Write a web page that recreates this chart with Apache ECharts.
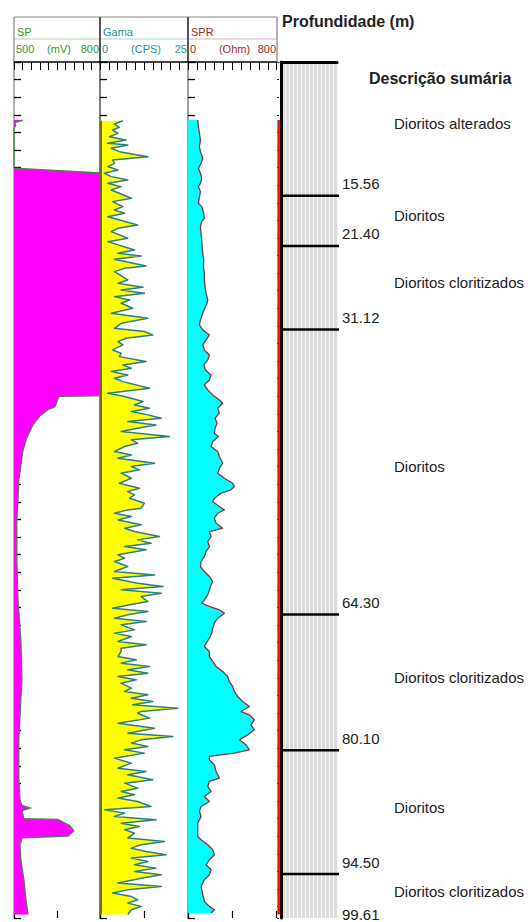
<!DOCTYPE html>
<html>
<head>
<meta charset="utf-8">
<script src="https://cdn.jsdelivr.net/npm/echarts/dist/echarts.min.js"></script>
<style>html,body{margin:0;padding:0;background:#fff}#c{width:528px;height:922px}</style>
</head>
<body>
<div id="c"></div>
<script>
// ---------------- DATA ----------------
const trackNames = ['SP', 'Gama', 'SPR'];
const trackUnits = ['(mV)', '(CPS)', '(Ohm)'];
const trackMin = [500, 0, 0];
const trackMax = [800, 25, 800];

// SP (mV) vs depth (m)
const spDepth = [6.6, 6.9, 7.2, 7.6, 12.05, 12.6, 37.95, 38.0, 39.2, 39.5, 40.2, 41.25, 42.7, 44.2, 45.9, 47.5, 49.8, 52.0, 56.6, 61.1, 65.7, 70.2, 72.5, 77.0, 81.6, 83.9, 84.5, 84.8, 85.1, 86.0, 86.1, 86.8, 87.4, 88.0, 88.2, 89.0, 90.7, 93.0, 95.2, 96.9];
const spValue = [531, 503, 506, 500, 500, 800, 800, 657, 643, 619, 591, 566, 545, 531, 524, 517, 514, 510, 510, 514, 524, 528, 524, 517, 517, 521, 528, 559, 528, 535, 654, 695, 709, 688, 528, 521, 524, 535, 542, 549];

// Gama (CPS) vs depth (m)
const gamaDepth = [6.67,7.05,7.42,7.73,8.11,8.49,8.86,9.24,9.43,9.81,10.19,10.76,11.14,11.52,11.89,12.27,12.65,13.03,13.41,13.79,14.17,14.55,15.49,15.87,16.44,16.82,17.2,17.58,18.52,18.9,19.28,20.04,20.42,21.36,21.74,22.05,22.42,23.18,23.45,23.83,24.77,25.15,25.61,25.91,26.29,26.67,27.05,27.42,
27.99,28.56,29.13,29.7,30.27,30.64,31.02,31.4,31.78,32.16,32.73,33.11,33.49,34.05,34.43,34.81,35.19,35.57,35.95,36.33,37.08,37.65,38.03,38.6,38.98,39.36,39.73,40.11,40.49,40.87,41.25,41.63,42.01,42.58,42.95,43.33,43.71,44.28,44.66,45.04,45.61,45.98,46.36,46.74,47.31,47.88,48.45,48.83,49.2,49.58,50.15,50.72,
50.91,51.29,51.67,52.05,52.61,52.99,53.37,53.94,54.32,54.7,55.08,55.45,56.02,56.4,56.78,57.35,57.92,58.3,58.67,59.24,59.62,60.0,60.38,60.76,61.33,61.7,62.08,62.46,62.84,63.22,63.6,63.98,64.55,64.92,65.3,65.87,66.25,66.63,67.01,67.58,67.95,68.33,68.71,69.09,69.47,69.85,70.23,70.61,71.17,71.55,71.93,72.31,72.69,73.07,73.45,73.83,
74.02,74.58,75.15,75.72,76.29,76.67,77.05,77.42,77.8,78.18,78.56,79.13,79.7,80.27,80.64,81.02,81.59,81.97,82.54,82.92,83.3,83.67,84.05,84.62,85.0,85.38,85.76,86.14,86.52,86.89,87.27,87.65,88.22,88.6,88.98,89.36,89.73,90.11,90.49,90.87,91.25,91.63,92.01,92.39,92.77,93.33,93.71,94.09,94.47,94.85,95.23,95.61,95.98,96.36,96.9];
const gamaValue = [6.5,4.1,5.5,3.6,5.1,2.7,7.4,2.2,7.9,3.2,5.5,13.6,3.6,4.1,2.2,5.1,1.3,3.2,7.9,2.2,6.0,3.2,8.9,3.6,6.5,4.1,7.0,2.2,10.7,5.1,3.2,7.9,2.2,9.8,5.1,11.7,4.1,13.1,7.0,4.1,7.9,5.1,12.2,6.0,12.6,4.1,8.4,6.0,
9.3,3.2,13.6,6.0,4.1,12.6,15.0,7.4,5.1,6.5,3.6,6.0,5.5,13.1,6.5,8.9,3.2,7.9,4.1,6.5,14.1,2.2,7.0,12.2,9.8,14.1,8.9,13.6,17.4,7.9,15.9,10.7,6.0,19.7,8.9,10.7,7.0,4.1,8.9,5.1,15.5,8.9,11.2,6.0,8.9,5.5,11.2,7.9,9.8,8.4,12.6,11.7,
7.9,4.1,8.9,5.1,11.7,7.0,9.8,16.9,10.7,14.5,7.0,13.1,5.1,7.0,4.1,7.9,4.1,15.5,3.6,10.7,17.9,6.0,17.4,11.7,13.6,8.4,3.6,13.6,7.9,4.1,13.1,6.0,9.8,4.1,8.9,5.1,13.1,6.0,6.0,5.1,10.3,6.0,14.1,7.9,13.6,5.1,10.3,6.0,8.9,7.0,13.6,8.9,15.0,9.3,22.1,11.7,
10.7,14.1,5.1,15.5,7.9,20.7,11.7,8.9,13.6,7.0,12.6,4.1,8.9,5.1,13.1,7.9,15.0,7.0,10.7,6.0,9.8,5.1,10.7,14.5,1.3,7.0,4.1,15.9,6.0,11.2,7.0,9.8,7.9,18.3,11.7,8.9,13.1,18.8,8.9,13.6,9.8,15.9,9.8,17.4,11.7,5.1,17.4,7.9,3.6,8.9,10.7,7.9,11.7,8.9,7.9];

// SPR (Ohm) vs depth (m)
const sprDepth = [6.59,7.35,8.11,8.86,9.62,10.19,10.95,11.52,12.08,12.65,13.22,13.79,14.17,14.73,15.3,16.06,16.44,17.2,17.77,18.14,18.71,19.47,20.23,20.98,21.74,22.5,23.26,24.02,24.77,25.53,26.29,27.05,27.42,
27.8,28.56,29.32,29.89,30.45,31.02,31.59,32.16,32.73,33.3,33.86,34.43,35.0,35.57,36.14,36.7,37.27,37.84,38.41,38.79,39.36,39.92,40.49,41.06,41.63,42.2,42.58,43.14,43.71,44.28,44.85,45.61,46.17,46.74,47.31,47.88,48.26,48.64,49.02,49.58,49.96,50.53,50.91,
51.29,51.86,52.42,52.99,53.37,53.94,54.51,55.08,55.64,56.21,56.78,57.35,57.92,58.48,59.05,59.43,60.0,60.57,61.14,61.51,61.89,62.27,62.65,63.22,63.79,64.36,64.92,65.49,66.06,66.44,67.01,67.58,68.14,68.71,69.28,69.85,70.42,70.98,71.55,72.12,72.69,73.26,73.83,
74.2,74.77,75.34,75.91,76.48,77.05,77.61,78.18,78.56,78.94,79.32,79.89,80.64,81.4,81.78,82.35,82.92,83.48,84.05,84.62,85.19,85.76,86.52,88.03,88.41,88.98,89.55,90.11,90.68,91.25,91.82,92.39,92.95,93.71,94.66,95.42,95.98,96.36,96.74];
const sprValue = [88,94,103,112,103,112,133,118,94,112,124,112,94,112,103,94,124,142,148,124,112,118,124,127,133,142,139,148,148,154,163,178,172,
158,133,112,103,133,193,163,133,148,193,178,142,158,208,193,148,178,223,283,313,268,283,244,262,244,238,274,223,208,268,283,313,283,268,328,403,418,388,298,238,223,283,328,
268,238,253,313,193,208,178,193,163,148,118,112,148,193,223,208,193,178,148,124,193,283,328,268,238,223,214,193,163,148,193,193,223,253,313,358,373,403,418,448,493,553,478,
553,598,568,598,538,463,523,553,418,193,193,238,253,283,193,178,208,148,193,118,103,118,88,88,118,178,223,238,193,163,208,193,148,118,133,148,193,238,208];

// thin red curve at the right edge of the log tracks
const redDepth = [6.6, 96.9];
const redValue = [0.55, 0.55];

// lithology
const boundaryDepths = [15.56, 21.40, 31.12, 64.30, 80.10, 94.50];
const bottomDepth = 99.61;
const unitTops = [0, 15.56, 21.40, 31.12, 64.30, 80.10, 94.50];
const unitBottoms = [15.56, 21.40, 31.12, 64.30, 80.10, 94.50, 99.61];
const unitNames = ['Dioritos alterados', 'Dioritos', 'Dioritos cloritizados', 'Dioritos', 'Dioritos cloritizados', 'Dioritos', 'Dioritos cloritizados'];

// ---------------- CHART ----------------
const FONT = '"Liberation Sans", Arial, sans-serif';
const trackDepthMax = 97.3;
const trackColors = ['#2f9a2f', '#2f8c96', '#a02a2a'];
const sepColors = ['#a9d3a0', '#a6d3dc', '#dcaeae'];
const trackL = [14, 100, 188];
const trackR = [100, 188, 277];

const chart = echarts.init(document.getElementById('c'), null, {renderer: 'svg', width: 528, height: 922});

function curveSeries(idx, depths, values, base, fill, stroke, lw, baseStroke) {
  return {
    type: 'custom', xAxisIndex: idx, yAxisIndex: idx, silent: true, animation: false,
    data: depths.map((d, i) => [values[i], d]),
    encode: {x: 0, y: 1},
    renderItem: function (params, api) {
      if (params.dataIndex !== 0) return null;
      const pts = depths.map((d, i) => api.coord([values[i], d]));
      const children = [];
      if (fill) {
        const b0 = api.coord([base, depths[0]]);
        const b1 = api.coord([base, depths[depths.length - 1]]);
        children.push({type: 'polygon', shape: {points: [b0].concat(pts, [b1])}, style: {fill: fill, stroke: 'none'}});
        if (baseStroke) {
          children.push({type: 'line', shape: {x1: b0[0] + 1, y1: b0[1], x2: b1[0] + 1, y2: b1[1]}, style: {stroke: baseStroke, lineWidth: 2}});
        }
      }
      children.push({type: 'polyline', shape: {points: pts}, style: {fill: 'none', stroke: stroke, lineWidth: lw, lineJoin: 'round'}});
      return {type: 'group', children: children};
    }
  };
}

const graphics = [];
// header frame
graphics.push({type: 'line', shape: {x1: 14, y1: 17, x2: 277, y2: 17}, style: {stroke: '#888', lineWidth: 1}});
for (let k = 0; k < 3; k++) {
  const L = trackL[k], R = trackR[k];
  graphics.push({type: 'line', shape: {x1: L + 1, y1: 39, x2: R - 1, y2: 39}, style: {stroke: sepColors[k], lineWidth: 1}});
  graphics.push({type: 'text', x: L + 3, y: 32, style: {text: trackNames[k], font: '11px ' + FONT, fill: trackColors[k], textAlign: 'left', textVerticalAlign: 'middle'}});
  graphics.push({type: 'text', x: L + 2, y: 49, style: {text: String(trackMin[k]), font: '11px ' + FONT, fill: trackColors[k], textAlign: 'left', textVerticalAlign: 'middle'}});
  graphics.push({type: 'text', x: (L + R) / 2 + 2, y: 49, style: {text: trackUnits[k], font: '11px ' + FONT, fill: trackColors[k], textAlign: 'center', textVerticalAlign: 'middle'}});
  graphics.push({type: 'text', x: R - 1, y: 49, style: {text: String(trackMax[k]), font: '11px ' + FONT, fill: trackColors[k], textAlign: 'right', textVerticalAlign: 'middle'}});
}
[[14, '#999', 1.5], [100, '#555', 2], [188, '#555', 2], [277, '#999', 1.5]].forEach(function (v) {
  graphics.push({type: 'line', shape: {x1: v[0], y1: 17, x2: v[0], y2: 62}, style: {stroke: v[1], lineWidth: v[2]}});
});
graphics.push({type: 'text', x: 282, y: 21, style: {text: 'Profundidade (m)', font: 'bold 16px ' + FONT, fill: '#222', textAlign: 'left', textVerticalAlign: 'middle'}});
graphics.push({type: 'text', x: 369, y: 78, style: {text: 'Descrição sumária', font: 'bold 16px ' + FONT, fill: '#222', textAlign: 'left', textVerticalAlign: 'middle'}});

const xAxes = [
  {gridIndex: 0, type: 'value', min: trackMin[0], max: trackMax[0], show: false},
  {gridIndex: 1, type: 'value', min: trackMin[1], max: trackMax[1], show: false},
  {gridIndex: 2, type: 'value', min: trackMin[2], max: trackMax[2], show: false},
  {gridIndex: 3, type: 'value', min: 0, max: 1, show: false},
  {gridIndex: 4, type: 'value', min: 0, max: 14, interval: 1, position: 'top',
    axisLine: {show: true, lineStyle: {color: '#000', width: 3}}, axisTick: {show: false}, axisLabel: {show: false},
    splitLine: {show: true, lineStyle: {color: '#f7f7f7', width: 1}}},
  {gridIndex: 5, type: 'value', min: 0, max: 1, show: false}
];
for (let k = 0; k < 3; k++) {
  xAxes.push({gridIndex: k, type: 'value', min: 0, max: 10, interval: 1, position: 'top',
    axisLine: {show: true, lineStyle: {color: '#000', width: 1.5}},
    axisTick: {show: true, inside: true, length: 8, lineStyle: {color: '#000', width: 1}},
    axisLabel: {show: false}, splitLine: {show: false}});
}
for (let k = 0; k < 3; k++) {
  xAxes.push({gridIndex: k, type: 'value', min: 0, max: 2, interval: 1, position: 'bottom',
    axisLine: {show: false},
    axisTick: {show: true, inside: true, length: 7, lineStyle: {color: '#000', width: 1.2}},
    axisLabel: {show: false}, splitLine: {show: false}});
}

const yAxes = [];
for (let k = 0; k < 3; k++) {
  yAxes.push({gridIndex: k, type: 'value', inverse: true, min: 0, max: trackDepthMax, interval: 2,
    axisLine: {show: true, lineStyle: {color: k === 0 ? '#999' : '#555', width: 1.5}},
    axisTick: {show: true, inside: true, length: 7, lineStyle: {color: '#000', width: 1.3}},
    axisLabel: {show: false}, splitLine: {show: false}});
}
yAxes.push({gridIndex: 3, type: 'value', inverse: true, min: 0, max: trackDepthMax, interval: 2,
  axisLine: {show: false}, axisTick: {show: true, inside: true, length: 2, lineStyle: {color: '#333', width: 1}},
  axisLabel: {show: false}, splitLine: {show: false}});
yAxes.push({gridIndex: 4, type: 'value', inverse: true, min: 0, max: bottomDepth, position: 'right',
  axisLine: {show: true, lineStyle: {color: '#000', width: 3}}, axisTick: {show: false}, axisLabel: {show: false}, splitLine: {show: false}});
yAxes.push({gridIndex: 5, type: 'value', inverse: true, min: 0, max: bottomDepth, show: false});
yAxes.push({gridIndex: 2, type: 'value', inverse: true, min: 0, max: trackDepthMax, position: 'right',
  axisLine: {show: true, lineStyle: {color: '#aaa', width: 1.5}}, axisTick: {show: false}, axisLabel: {show: false}, splitLine: {show: false}});

const boundaryData = boundaryDepths.map(d => [0, d]).concat([[0, bottomDepth]]);
const descData = unitTops.map((t, i) => [0, (t + unitBottoms[i]) / 2]);

const option = {
  animation: false,
  backgroundColor: '#fff',
  textStyle: {fontFamily: FONT},
  grid: [
    {left: 14, top: 62, width: 86, height: 856},
    {left: 100, top: 62, width: 88, height: 856},
    {left: 188, top: 62, width: 88.7, height: 856},
    {left: 277, top: 62, width: 3, height: 856},
    {left: 281, top: 62, width: 56, height: 856, show: true, backgroundColor: '#dcdcdc', borderWidth: 0},
    {left: 339, top: 62, width: 189, height: 856}
  ],
  xAxis: xAxes,
  yAxis: yAxes,
  graphic: graphics,
  series: [
    curveSeries(0, spDepth, spValue, trackMin[0], '#ff00ff', '#3d8b3d', 1.2),
    curveSeries(1, gamaDepth, gamaValue, trackMin[1], '#ffff00', '#2b7e84', 1.5, '#6e6e14'),
    curveSeries(2, sprDepth, sprValue, trackMin[2], '#00ffff', '#8f3030', 1.3),
    curveSeries(3, redDepth, redValue, 0, null, '#ff0000', 2.5),
    {
      type: 'custom', xAxisIndex: 4, yAxisIndex: 4, silent: true, data: boundaryData, encode: {x: 0, y: 1},
      renderItem: function (params, api) {
        const d = api.value(1);
        const p0 = api.coord([0, d]);
        const p1 = api.coord([14, d]);
        const children = [];
        const isBottom = params.dataIndex >= boundaryDepths.length;
        if (!isBottom) {
          children.push({type: 'line', shape: {x1: p0[0], y1: p0[1], x2: p1[0] + 2, y2: p1[1]}, style: {stroke: '#000', lineWidth: 2.5}});
        }
        children.push({type: 'text', x: p1[0] + 5, y: p1[1] - (isBottom ? 4 : 12), style: {text: d.toFixed(2), font: '15px ' + FONT, fill: '#222', textAlign: 'left', textVerticalAlign: 'middle'}});
        return {type: 'group', children: children};
      }
    },
    {
      type: 'custom', xAxisIndex: 5, yAxisIndex: 5, silent: true, data: descData, encode: {x: 0, y: 1},
      renderItem: function (params, api) {
        const p = api.coord([0, api.value(1)]);
        return {type: 'text', x: p[0] + 55, y: p[1] - 5, style: {text: unitNames[params.dataIndex], font: '15px ' + FONT, fill: '#222', textAlign: 'left', textVerticalAlign: 'middle'}};
      }
    }
  ]
};
chart.setOption(option);
</script>
</body>
</html>
